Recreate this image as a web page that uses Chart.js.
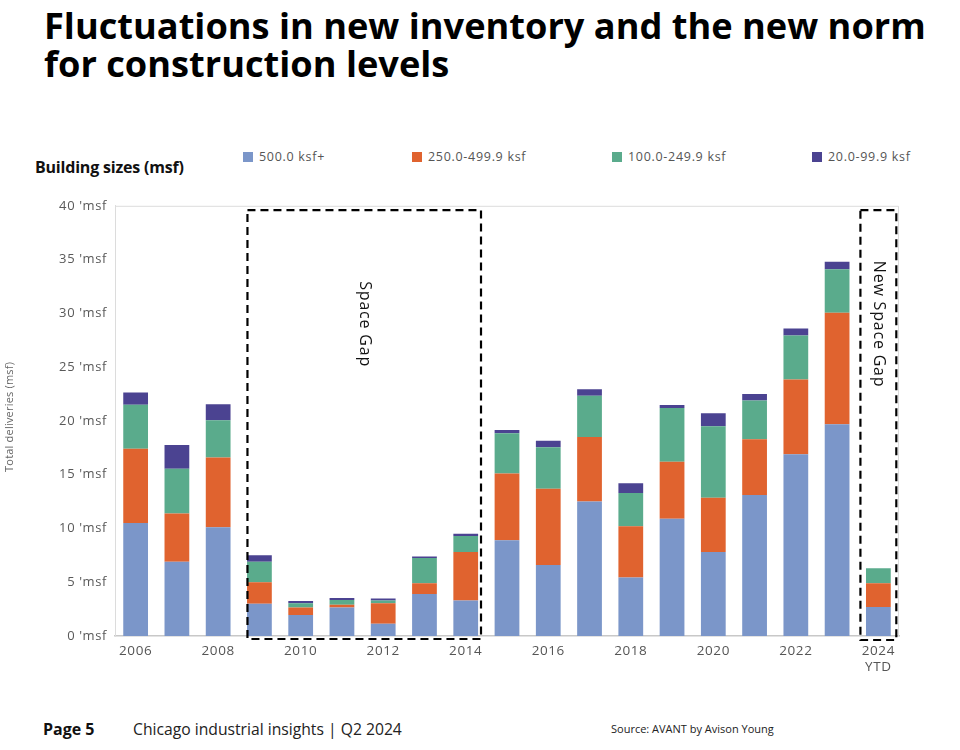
<!DOCTYPE html>
<html>
<head>
<meta charset="utf-8">
<script src="https://cdn.jsdelivr.net/npm/chart.js@4.4.1/dist/chart.umd.min.js"></script>
<style>
  html, body { margin: 0; padding: 0; background: #fff; }
  body { width: 960px; height: 750px; position: relative; overflow: hidden; font-family: "Open Sans", sans-serif; }
  #title { position: absolute; left: 44px; top: 6px; font-weight: 700; font-size: 36.2px; line-height: 38px; color: #000; margin: 0; white-space: nowrap; }
  #subtitle { position: absolute; left: 35px; top: 156px; font-weight: 700; font-size: 16px; letter-spacing: -0.2px; color: #111; }
  #legend { position: absolute; top: 148px; left: 0; width: 960px; height: 18px; }
  .li { position: absolute; top: 0; font-size: 12.5px; letter-spacing: 0.7px; color: #555; white-space: nowrap; line-height: 18px; }
  .li span.box { display: inline-block; width: 10px; height: 10px; margin-right: 6px; vertical-align: -1px; }
  #wrap { position: absolute; left: 0; top: 190px; width: 960px; height: 505px; }
  #footer1 { position: absolute; left: 43px; top: 718px; font-weight: 700; font-size: 16px; color: #111; }
  #footer2 { position: absolute; left: 133px; top: 718px; font-size: 15.7px; color: #222; }
  #footer3 { position: absolute; left: 611px; top: 721px; font-size: 11px; color: #222; }
</style>
</head>
<body>
<h1 id="title">Fluctuations in new inventory and the new norm<br>for construction levels</h1>
<div id="subtitle">Building sizes (msf)</div>
<div id="legend"></div>
<div id="wrap"><canvas id="c"></canvas></div>
<div id="footer1">Page 5</div>
<div id="footer2">Chicago industrial insights | Q2 2024</div>
<div id="footer3">Source: AVANT by Avison Young</div>
<script>
const categories = ['2006','2007','2008','2009','2010','2011','2012','2013','2014','2015','2016','2017','2018','2019','2020','2021','2022','2023',['2024','YTD']];
const seriesNames = ['500.0 ksf+','250.0-499.9 ksf','100.0-249.9 ksf','20.0-99.9 ksf'];
const seriesColors = ['#7b96c9','#e0632f','#5aab8c','#4b4391'];
const size500plus = [10.5, 6.9, 10.1, 3.0, 1.95, 2.65, 1.15, 3.9, 3.3, 8.9, 6.6, 12.5, 5.45, 10.9, 7.8, 13.1, 16.9, 19.7, 2.7];
const size250to500 = [6.9, 4.5, 6.5, 2.0, 0.7, 0.25, 1.9, 1.0, 4.5, 6.2, 7.1, 6.0, 4.75, 5.3, 5.05, 5.2, 6.95, 10.35, 2.2];
const size100to250 = [4.1, 4.15, 3.45, 1.9, 0.4, 0.45, 0.25, 2.35, 1.5, 3.75, 3.85, 3.85, 3.1, 5.0, 6.65, 3.6, 4.1, 4.05, 1.4];
const size20to100 = [1.15, 2.2, 1.5, 0.6, 0.2, 0.18, 0.18, 0.15, 0.2, 0.3, 0.6, 0.6, 0.9, 0.28, 1.2, 0.6, 0.65, 0.7, 0];
const yTicks = [0, 5, 10, 15, 20, 25, 30, 35, 40];
const yTitle = 'Total deliveries (msf)';
const gapBoxes = [
  { from: 3, to: 8, label: 'Space Gap' },
  { from: 18, to: 18, label: 'New Space Gap' }
];

// legend (HTML)
const legendX = [243, 412, 612, 812];
const lg = document.getElementById('legend');
seriesNames.forEach((n, i) => {
  const d = document.createElement('div');
  d.className = 'li';
  d.style.left = legendX[i] + 'px';
  d.innerHTML = '<span class="box" style="background:' + seriesColors[i] + '"></span>' + n;
  lg.appendChild(d);
});

const allSeries = [size500plus, size250to500, size100to250, size20to100];

const spacingPlugin = {
  id: 'spacing',
  beforeInit(chart) { chart.ctx.letterSpacing = '0.6px'; },
  beforeLayout(chart) { chart.ctx.letterSpacing = '0.6px'; },
  beforeDraw(chart) { chart.ctx.letterSpacing = '0.6px'; }
};

const framePlugin = {
  id: 'frame',
  beforeDatasetsDraw(chart) {
    const { ctx, chartArea: a } = chart;
    ctx.save();
    ctx.strokeStyle = '#dcdcdc';
    ctx.lineWidth = 1;
    ctx.beginPath();
    ctx.moveTo(a.left + 0.5, a.bottom);
    ctx.lineTo(a.left + 0.5, a.top + 0.5);
    ctx.lineTo(a.right - 0.5, a.top + 0.5);
    ctx.lineTo(a.right - 0.5, a.bottom);
    ctx.stroke();
    // y axis title
    ctx.translate(10, (a.top + a.bottom) / 2 - 4);
    ctx.rotate(-Math.PI / 2);
    ctx.letterSpacing = '0.2px';
    ctx.fillStyle = '#666';
    ctx.font = '11px "Open Sans"';
    ctx.textAlign = 'center';
    ctx.textBaseline = 'middle';
    ctx.fillText(yTitle, 0, 0);
    ctx.restore();
  }
};

const gapPlugin = {
  id: 'gaps',
  afterDatasetsDraw(chart) {
    const { ctx } = chart;
    const xs = chart.scales.x, ys = chart.scales.y;
    const cw = xs.getPixelForValue(1) - xs.getPixelForValue(0);
    gapBoxes.forEach((g, gi) => {
      ctx.save();
      const l = xs.getPixelForValue(g.from) - (gi === 0 ? 0.29 : 0.435) * cw;
      const r = xs.getPixelForValue(g.to) + (gi === 0 ? 0.37 : 0.435) * cw;
      const t = ys.getPixelForValue(39.6);
      const b = ys.getPixelForValue(0) + (gi === 0 ? 3 : 4);
      ctx.strokeStyle = '#000';
      ctx.lineWidth = 2.2;
      ctx.setLineDash([8, 5]);
      ctx.strokeRect(l, t, r - l, b - t);
      ctx.setLineDash([]);
      ctx.translate((l + r) / 2, ys.getPixelForValue(29));
      ctx.rotate(Math.PI / 2);
      ctx.letterSpacing = '0.8px';
      ctx.fillStyle = '#111';
      ctx.font = '16px "Open Sans"';
      ctx.textAlign = 'center';
      ctx.textBaseline = 'middle';
      ctx.fillText(g.label, 0, 0);
      ctx.restore();
    });
  }
};

new Chart(document.getElementById('c'), {
  type: 'bar',
  data: {
    labels: categories,
    datasets: allSeries.map((d, i) => ({
      label: seriesNames[i],
      data: d,
      backgroundColor: seriesColors[i],
      borderWidth: 0,
      categoryPercentage: 1,
      barPercentage: 0.6
    }))
  },
  options: {
    responsive: true,
    maintainAspectRatio: false,
    animation: false,
    layout: { padding: { left: 0, right: 61, top: 11, bottom: 5 } },
    plugins: { legend: { display: false }, tooltip: { enabled: false } },
    scales: {
      x: {
        stacked: true,
        grid: { display: false, drawTicks: false },
        border: { display: true, color: '#c8c8c8', width: 1.5 },
        ticks: {
          autoSkip: false, maxRotation: 0, padding: 7,
          color: '#555', font: { family: 'Open Sans', size: 13.5 },
          callback: function (v, i) { return i % 2 === 0 ? categories[i] : ''; }
        },
        afterFit: s => { s.height = 54; }
      },
      y: {
        stacked: true,
        min: 0, max: 40,
        afterBuildTicks: s => { s.ticks = yTicks.map(v => ({ value: v })); },
        grid: { display: false, drawTicks: false },
        border: { display: true, color: '#dcdcdc', width: 1 },
        ticks: {
          padding: 8, color: '#595959', font: { family: 'Open Sans', size: 13 },
          callback: v => v + " 'msf"
        },
        afterFit: s => { s.width = 115; }
      }
    }
  },
  plugins: [spacingPlugin, framePlugin, gapPlugin]
});
</script>
</body>
</html>
